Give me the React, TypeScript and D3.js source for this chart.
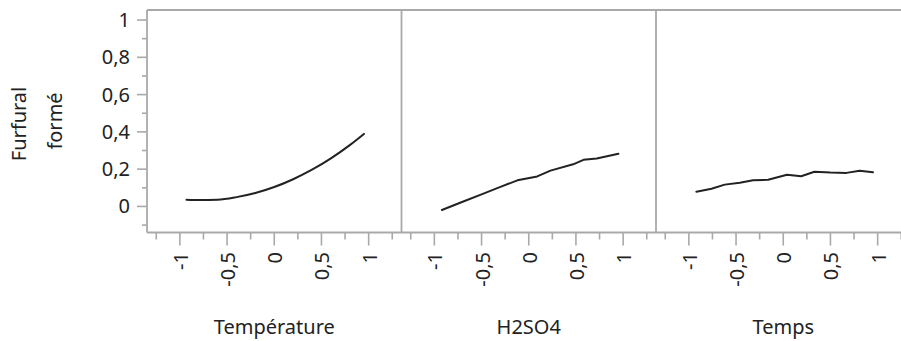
import React from "react";
import * as d3 from "d3";

const panelNames = ["Température", "H2SO4", "Temps"];
const yTickValues = [0, 0.2, 0.4, 0.6, 0.8, 1];
const yMinorValues = [-0.1, 0.1, 0.3, 0.5, 0.7, 0.9];
const xTickValues = [-1, -0.5, 0, 0.5, 1];
const xMinorValues = [-1.25, -0.75, -0.25, 0.25, 0.75, 1.25];

const tempX = [-0.93, -0.8, -0.6, -0.4, -0.2, 0, 0.2, 0.4, 0.6, 0.8, 0.95];
const tempY = [0.036, 0.034, 0.036, 0.05, 0.072, 0.104, 0.146, 0.197, 0.258, 0.329, 0.389];
const acidX = [-0.92, -0.7, -0.5, -0.3, -0.12, 0.09, 0.23, 0.47, 0.58, 0.72, 0.95];
const acidY = [-0.019, 0.025, 0.065, 0.105, 0.14, 0.161, 0.192, 0.226, 0.25, 0.257, 0.283];
const timeX = [-0.92, -0.76, -0.62, -0.46, -0.32, -0.16, 0.04, 0.19, 0.33, 0.5, 0.67, 0.81, 0.95];
const timeY = [0.079, 0.095, 0.117, 0.127, 0.14, 0.143, 0.17, 0.162, 0.186, 0.182, 0.18, 0.192, 0.183];

const seriesX = [tempX, acidX, timeX];
const seriesY = [tempY, acidY, timeY];

const fmt = (v: number) => String(v).replace(".", ",");

export default function App() {
  const W = 901, H = 341;
  const top = 10, bottom = 232.5;
  const left = 147;
  const panelW = 254.5;
  const grey = "#a9a9a9";
  const textCol = "#222";
  const font = "'Segoe UI', 'Noto Sans', sans-serif";

  const y = d3.scaleLinear().domain([-0.1398, 1.0538]).range([bottom, top]);

  const panels = panelNames.map((name, i) => {
    const x0 = left + i * panelW;
    const x = d3.scaleLinear().domain([-1.348, 1.348]).range([x0, x0 + panelW]);
    const pts = seriesX[i].map((v, k) => [v, seriesY[i][k]] as [number, number]);
    const line = d3.line<[number, number]>()
      .x(d => x(d[0]))
      .y(d => y(d[1]))
      .curve(i === 0 ? d3.curveMonotoneX : d3.curveLinear);
    return { name, x0, x, path: line(pts) || "" };
  });

  return (
    <svg width={W} height={H} style={{ position: "absolute", left: 0, top: 0 }} fontFamily={font}>
      <rect x={0} y={0} width={W} height={H} fill="#fff" />
      <text transform={`translate(26,124) rotate(-90)`} textAnchor="middle" fontSize={20} fill={textCol}>Furfural</text>
      <text transform={`translate(62,121) rotate(-90)`} textAnchor="middle" fontSize={20} fill={textCol}>formé</text>
      {yTickValues.map(v => (
        <g key={"yt" + v}>
          <line x1={left - 10} x2={left} y1={y(v)} y2={y(v)} stroke={grey} strokeWidth={1.6} />
          <text x={130} y={y(v)} dy="0.35em" textAnchor="end" fontSize={20} fill={textCol}>{fmt(v)}</text>
        </g>
      ))}
      {yMinorValues.map(v => (
        <line key={"ym" + v} x1={left - 5} x2={left} y1={y(v)} y2={y(v)} stroke={grey} strokeWidth={1.6} />
      ))}
      <line x1={left} x2={W + 20} y1={top} y2={top} stroke={grey} strokeWidth={1.8} />
      <line x1={left} x2={W + 20} y1={bottom} y2={bottom} stroke={grey} strokeWidth={1.8} />
      <line x1={left} x2={left} y1={top} y2={bottom} stroke={grey} strokeWidth={1.8} />
      {panels.map((p, i) => (
        <g key={p.name}>
          {i > 0 && <line x1={p.x0} x2={p.x0} y1={top} y2={bottom} stroke={grey} strokeWidth={1.8} />}
          {xTickValues.map(v => (
            <g key={"xt" + v}>
              <line x1={p.x(v)} x2={p.x(v)} y1={bottom} y2={bottom + 13} stroke={grey} strokeWidth={1.6} />
              <text transform={`translate(${p.x(v) + 1},${252}) rotate(-90)`} textAnchor="end" dy="0.35em" fontSize={20} fill={textCol}>{fmt(v)}</text>
            </g>
          ))}
          {xMinorValues.map(v => (
            <line key={"xm" + v} x1={p.x(v)} x2={p.x(v)} y1={bottom} y2={bottom + 7} stroke={grey} strokeWidth={1.6} />
          ))}
          <path d={p.path} fill="none" stroke="#222" strokeWidth={2} strokeLinejoin="round" strokeLinecap="round" />
          <text x={p.x(0)} y={334} textAnchor="middle" fontSize={20} fill={textCol}>{p.name}</text>
        </g>
      ))}
    </svg>
  );
}
